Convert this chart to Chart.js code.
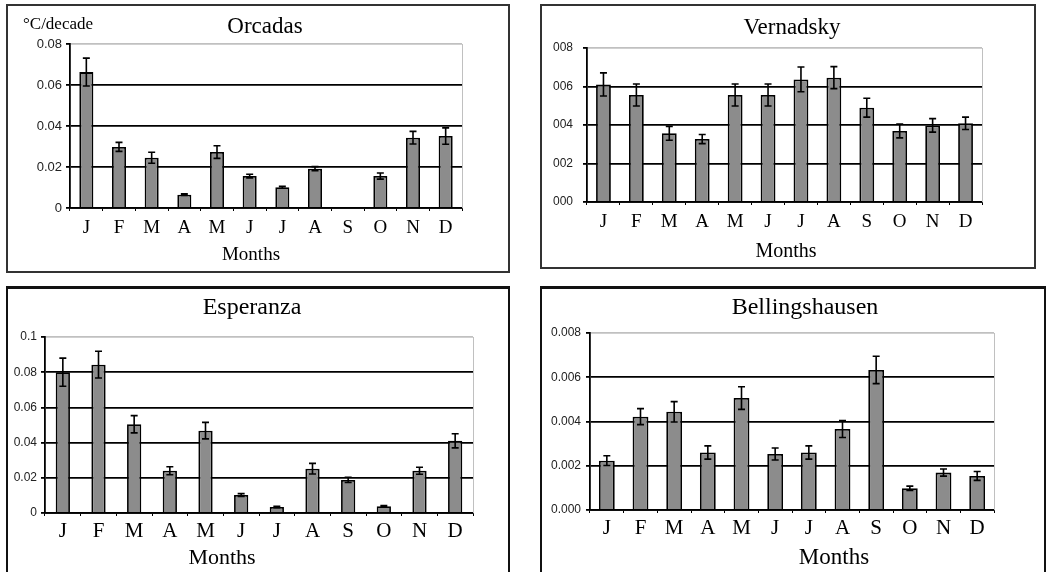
<!DOCTYPE html>
<html>
<head>
<meta charset="utf-8">
<script src="https://cdn.jsdelivr.net/npm/chart.js@4"></script>
<style>
  body { margin: 0; background: #fff; width: 1053px; height: 572px; overflow: hidden; position: relative; }
  .panel { position: absolute; border: 2px solid #333; box-sizing: border-box; background: #fff; }
  .panel canvas { position: absolute; left: 0; top: 0; }
</style>
</head>
<body>
<div class="panel" id="p1" style="left:6px;top:4px;width:504px;height:269px;"><canvas id="c1"></canvas></div>
<div class="panel" id="p2" style="left:540px;top:4px;width:496px;height:265px;"><canvas id="c2"></canvas></div>
<div class="panel" id="p3" style="left:6px;top:286px;width:504px;height:290px;border-top-width:3px;border-color:#111;"><canvas id="c3"></canvas></div>
<div class="panel" id="p4" style="left:540px;top:286px;width:506px;height:290px;border-top-width:3px;border-color:#111;"><canvas id="c4"></canvas></div>
<script>
const months = ['J', 'F', 'M', 'A', 'M', 'J', 'J', 'A', 'S', 'O', 'N', 'D'];

// trends in °C/decade, with the half-length of each error bar
const orcadasTrend = [0.0663, 0.0298, 0.0245, 0.0065, 0.0273, 0.0156, 0.0101, 0.0192, null, 0.0156, 0.0343, 0.0351];
const orcadasErr = [0.0068, 0.0022, 0.0027, 0.0004, 0.0031, 0.0009, 0.0005, 0.0010, null, 0.0015, 0.0031, 0.0040];
const orcadasTicks = ['0', '0.02', '0.04', '0.06', '0.08'];

const vernadskyTrend = [0.0611, 0.0556, 0.0357, 0.0327, 0.0556, 0.0556, 0.0637, 0.0646, 0.0490, 0.0369, 0.0398, 0.0409];
const vernadskyErr = [0.0060, 0.0057, 0.0036, 0.0024, 0.0057, 0.0057, 0.0064, 0.0057, 0.0049, 0.0036, 0.0035, 0.0032];
const vernadskyTicks = ['000', '002', '004', '006', '008'];

const esperanzaTrend = [0.0800, 0.0843, 0.0504, 0.0240, 0.0468, 0.0102, 0.0034, 0.0252, 0.0188, 0.0038, 0.0240, 0.0410];
const esperanzaErr = [0.0080, 0.0076, 0.0049, 0.0023, 0.0047, 0.0008, 0.0004, 0.0030, 0.0015, 0.0004, 0.0020, 0.0040];
const esperanzaTicks = ['0', '0.02', '0.04', '0.06', '0.08', '0.1'];

const bellingTrend = [0.00223, 0.00422, 0.00444, 0.00260, 0.00506, 0.00253, 0.00260, 0.00366, 0.00633, 0.00098, 0.00169, 0.00154];
const bellingErr = [0.00022, 0.00036, 0.00046, 0.00030, 0.00051, 0.00027, 0.00030, 0.00038, 0.00062, 0.00010, 0.00016, 0.00020];
const bellingTicks = ['0.000', '0.002', '0.004', '0.006', '0.008'];

const serif = '"Liberation Serif", "Times New Roman", serif';
const sans = '"Liberation Sans", Arial, sans-serif';

// error bars and the grey right edge of the plot area
const errorBars = {
  id: 'errorBars',
  afterDatasetsDraw(chart) {
    const errs = chart.options.plugins.errorBars.errors;
    const meta = chart.getDatasetMeta(0);
    const y = chart.scales.y;
    const ctx = chart.ctx;
    const area = chart.chartArea;
    ctx.save();
    ctx.strokeStyle = '#c0c0c0';
    ctx.lineWidth = 1;
    ctx.beginPath();
    ctx.moveTo(area.right + 0.5, area.top);
    ctx.lineTo(area.right + 0.5, area.bottom);
    ctx.stroke();
    ctx.strokeStyle = '#000';
    ctx.lineWidth = 1.6;
    meta.data.forEach((bar, i) => {
      const v = chart.data.datasets[0].data[i];
      if (v == null || errs[i] == null) return;
      const top = y.getPixelForValue(v + errs[i]);
      const bot = y.getPixelForValue(v - errs[i]);
      ctx.beginPath();
      ctx.moveTo(bar.x, top);
      ctx.lineTo(bar.x, bot);
      ctx.moveTo(bar.x - 3.5, top);
      ctx.lineTo(bar.x + 3.5, top);
      ctx.moveTo(bar.x - 3.5, bot);
      ctx.lineTo(bar.x + 3.5, bot);
      ctx.stroke();
    });
    ctx.restore();
  }
};

// station name, axis name and unit
const panelText = {
  id: 'panelText',
  afterDraw(chart) {
    const items = chart.options.plugins.panelText.items;
    const ctx = chart.ctx;
    ctx.save();
    ctx.fillStyle = '#000';
    ctx.textBaseline = 'middle';
    items.forEach(it => {
      ctx.font = it.font;
      ctx.textAlign = it.align || 'center';
      ctx.fillText(it.text, it.x, it.y);
    });
    ctx.restore();
  }
};

function makeChart(id, w, h, cfg) {
  const canvas = document.getElementById(id);
  canvas.width = w;
  canvas.height = h;
  canvas.style.width = w + 'px';
  canvas.style.height = h + 'px';
  new Chart(canvas, {
    type: 'bar',
    data: {
      labels: months,
      datasets: [{
        data: cfg.values,
        backgroundColor: '#8c8c8c',
        borderColor: '#000',
        borderWidth: 1.8,
        barPercentage: cfg.barPct,
        categoryPercentage: 1
      }]
    },
    options: {
      responsive: false,
      animation: false,
      layout: { padding: { left: 0, top: cfg.area.top, right: w - cfg.area.right, bottom: 0 } },
      plugins: {
        legend: { display: false },
        tooltip: { enabled: false },
        errorBars: { errors: cfg.errors },
        panelText: { items: cfg.texts }
      },
      scales: {
        x: {
          grid: { drawOnChartArea: false, drawTicks: true, tickLength: 3, color: '#000' },
          border: { color: '#000', width: 1.8 },
          ticks: { color: '#000', font: { family: serif, size: cfg.xFont }, padding: cfg.xPad, maxRotation: 0, autoSkip: false },
          afterFit: s => { s.height = h - cfg.area.bottom; }
        },
        y: {
          min: 0,
          max: cfg.max,
          grid: {
            color: c => (c.tick && c.tick.value >= cfg.max - 1e-9) ? '#c0c0c0' : '#000',
            lineWidth: 1.8,
            tickLength: 4,
            tickColor: '#000'
          },
          border: { color: '#000', width: 1.8 },
          ticks: {
            stepSize: cfg.step,
            color: '#222',
            font: { family: sans, size: cfg.yFont },
            padding: cfg.yPad,
            callback: (v, i) => cfg.tickLabels[i]
          },
          afterFit: s => { s.width = cfg.area.left; }
        }
      }
    },
    plugins: [errorBars, panelText]
  });
}

makeChart('c1', 500, 265, {
  values: orcadasTrend, errors: orcadasErr, tickLabels: orcadasTicks,
  max: 0.08, step: 0.02, barPct: 0.43, xFont: 19, xPad: 6, yFont: 13, yPad: 4,
  area: { left: 62, right: 454, top: 38, bottom: 202 },
  texts: [
    { text: 'Orcadas', x: 257, y: 21, font: '23px ' + serif },
    { text: 'Months', x: 243, y: 249, font: '19px ' + serif },
    { text: '°C/decade', x: 15, y: 19, font: '17px ' + serif, align: 'left' }
  ]
});

makeChart('c2', 492, 261, {
  values: vernadskyTrend, errors: vernadskyErr, tickLabels: vernadskyTicks,
  max: 0.08, step: 0.02, barPct: 0.45, xFont: 19, xPad: 6, yFont: 12, yPad: 10,
  area: { left: 45, right: 440, top: 42, bottom: 196 },
  texts: [
    { text: 'Vernadsky', x: 250, y: 22, font: '23px ' + serif },
    { text: 'Months', x: 244, y: 246, font: '20px ' + serif }
  ]
});

makeChart('c3', 500, 284, {
  values: esperanzaTrend, errors: esperanzaErr, tickLabels: esperanzaTicks,
  max: 0.1, step: 0.02, barPct: 0.4, xFont: 21, xPad: 3, yFont: 12, yPad: 4,
  area: { left: 37, right: 465, top: 48, bottom: 224 },
  texts: [
    { text: 'Esperanza', x: 244, y: 19, font: '24px ' + serif },
    { text: 'Months', x: 214, y: 269, font: '22px ' + serif }
  ]
});

makeChart('c4', 502, 284, {
  values: bellingTrend, errors: bellingErr, tickLabels: bellingTicks,
  max: 0.008, step: 0.002, barPct: 0.47, xFont: 21, xPad: 3, yFont: 12, yPad: 5,
  area: { left: 48, right: 452, top: 44, bottom: 221 },
  texts: [
    { text: 'Bellingshausen', x: 263, y: 19, font: '24px ' + serif },
    { text: 'Months', x: 292, y: 269, font: '23px ' + serif }
  ]
});
</script>
</body>
</html>
